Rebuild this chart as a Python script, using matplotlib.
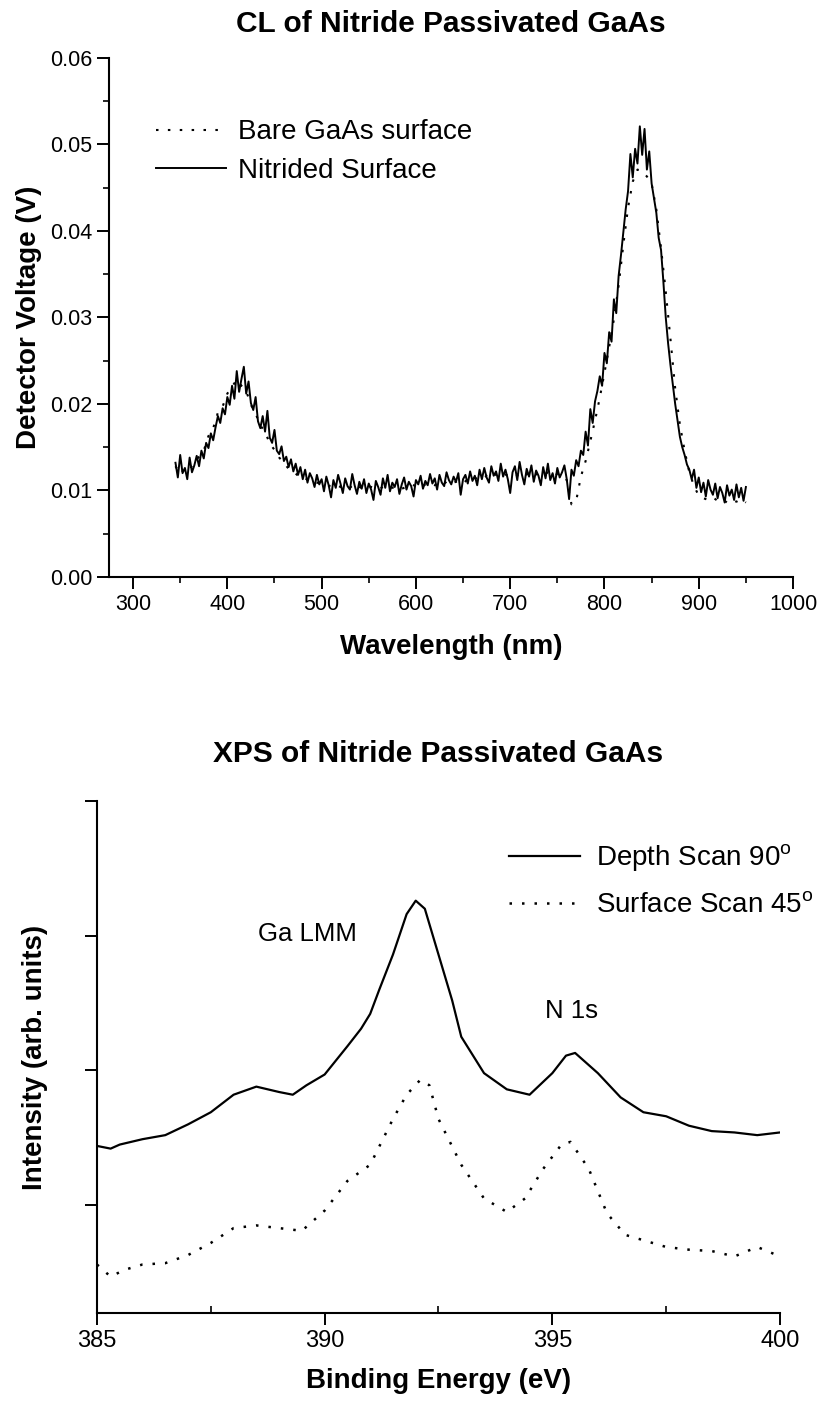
import matplotlib
matplotlib.use("Agg")
import numpy as np
import matplotlib.pyplot as plt
from matplotlib.ticker import MultipleLocator, FixedLocator, NullFormatter

plt.rcParams['font.family'] = ['Liberation Sans', 'DejaVu Sans']
plt.rcParams['mathtext.fontset'] = 'custom'
plt.rcParams['mathtext.rm'] = 'Liberation Sans'

# ---- CL spectra (top panel) ----
# nitrided surface, sampled every 2.5 nm from 345 to 950 nm
wl_nitrided = np.linspace(345, 950, 243)
nitrided = [
    .0132, .0115, .0141, .0120, .0126, .0113, .0138, .0121, .0129, .0140,
    .0128, .0146, .0137, .0155, .0149, .0166, .0158, .0173, .0186, .0178,
    .0195, .0188, .0208, .0199, .0221, .0206, .0238, .0214, .0229, .0243,
    .0212, .0226, .0201, .0193, .0208, .0180, .0172, .0186, .0168, .0192,
    .0161, .0155, .0170, .0146, .0142, .0151, .0134, .0139, .0127, .0136,
    .0122, .0131, .0118, .0127, .0113, .0124, .0109, .0120, .0114, .0104,
    .0118, .0107, .0113, .0099, .0116, .0106, .0092, .0112, .0103, .0118,
    .0108, .0097, .0114, .0105, .0101, .0119, .0106, .0096, .0110, .0102,
    .0113, .0097, .0108, .0101, .0089, .0111, .0104, .0095, .0114, .0103,
    .0118, .0099, .0109, .0104, .0113, .0096, .0107, .0115, .0101, .0110,
    .0105, .0093, .0112, .0107, .0117, .0102, .0111, .0106, .0119, .0108,
    .0114, .0101, .0118, .0109, .0105, .0121, .0112, .0107, .0116, .0110,
    .0120, .0095, .0113, .0118, .0108, .0122, .0111, .0117, .0106, .0124,
    .0113, .0126, .0115, .0109, .0128, .0117, .0122, .0111, .0131, .0116,
    .0124, .0113, .0097, .0121, .0128, .0112, .0133, .0118, .0107, .0125,
    .0116, .0129, .0110, .0123, .0117, .0106, .0127, .0114, .0131, .0112,
    .0120, .0108, .0126, .0115, .0121, .0129, .0113, .0090, .0124, .0117,
    .0135, .0128, .0146, .0141, .0168, .0152, .0194, .0178, .0203, .0215,
    .0232, .0221, .0259, .0247, .0283, .0272, .0321, .0305, .0348, .0372,
    .0398, .0425, .0446, .0489, .0462, .0495, .0478, .0521, .0488, .0518,
    .0471, .0492, .0455, .0438, .0421, .0392, .0378, .0341, .0300, .0270,
    .0245, .0222, .0200, .0181, .0162, .0150, .0141, .0130, .0124, .0113,
    .0124, .0103, .0115, .0098, .0109, .0093, .0112, .0101, .0095, .0108,
    .0091, .0104, .0097, .0086, .0106, .0094, .0101, .0089, .0107, .0092,
    .0103, .0088, .0104]
# bare surface, sampled every 5 nm
wl_bare = list(range(345, 951, 5))
bare = [
    .0128, .0119, .0126, .0124, .0133, .0139, .0146, .0163, .0172, .0190,
    .0197, .0212, .0220, .0228, .0221, .0215, .0199, .0189, .0175, .0168,
    .0154, .0147, .0138, .0132, .0125, .0122, .0117, .0117, .0112, .0111,
    .0109, .0108, .0106, .0105, .0107, .0104, .0106, .0103, .0108, .0104,
    .0102, .0105, .0103, .0101, .0104, .0106, .0103, .0105, .0102, .0104,
    .0107, .0105, .0103, .0107, .0109, .0106, .0110, .0108, .0112, .0109,
    .0111, .0108, .0113, .0111, .0115, .0113, .0117, .0114, .0119, .0116,
    .0118, .0117, .0115, .0119, .0116, .0121, .0117, .0120, .0118, .0121,
    .0116, .0119, .0117, .0112, .0084, .0088, .0116, .0134, .0157, .0181,
    .0207, .0236, .0266, .0298, .0337, .0384, .0427, .0457, .0471, .0469,
    .0463, .0455, .0425, .0380, .0330, .0275, .0218, .0176, .0146, .0121,
    .0105, .0094, .0091, .0089, .0092, .0088, .0090, .0086, .0089, .0087,
    .0090, .0086]

# ---- XPS spectra (bottom panel) ----
depth_energy = [385.0, 385.3, 385.5, 386.0, 386.5, 387.0, 387.5, 388.0, 388.5, 389.0,
                389.3, 389.6, 390.0, 390.5, 390.8, 391.0, 391.2, 391.5, 391.8, 392.0,
                392.2, 392.5, 392.8, 393.0, 393.5, 394.0, 394.5, 395.0, 395.3, 395.5,
                396.0, 396.5, 397.0, 397.5, 398.0, 398.5, 399.0, 399.5, 400.0]
depth_int = [1.24, 1.22, 1.25, 1.29, 1.32, 1.40, 1.49, 1.62, 1.68, 1.64,
             1.62, 1.69, 1.77, 1.98, 2.11, 2.22, 2.40, 2.66, 2.96, 3.06,
             3.00, 2.66, 2.32, 2.05, 1.78, 1.66, 1.62, 1.78, 1.91, 1.93,
             1.78, 1.60, 1.49, 1.46, 1.39, 1.35, 1.34, 1.32, 1.34]
surf_energy = [385.0, 385.3, 385.6, 386.0, 386.5, 387.0, 387.5, 388.0, 388.5, 389.0,
               389.5, 390.0, 390.5, 391.0, 391.5, 391.8, 392.1, 392.3, 392.5, 393.0,
               393.5, 394.0, 394.4, 394.8, 395.2, 395.4, 395.8, 396.2, 396.6, 397.0,
               397.5, 398.0, 398.5, 399.0, 399.5, 400.0]
surf_int = [0.36, 0.27, 0.32, 0.36, 0.37, 0.43, 0.52, 0.63, 0.65, 0.63,
            0.61, 0.76, 0.98, 1.10, 1.44, 1.62, 1.73, 1.69, 1.44, 1.10,
            0.85, 0.75, 0.85, 1.07, 1.25, 1.27, 1.07, 0.74, 0.58, 0.54,
            0.49, 0.47, 0.46, 0.42, 0.49, 0.42]

fig = plt.figure(figsize=(8.19, 14.01), dpi=100)

# top panel
ax1 = fig.add_axes([0.1331, 0.5882, 0.8352, 0.3704])
ax1.plot(wl_bare, bare, color='black', lw=1.5, linestyle=(0, (1.2, 4.5)), label='Bare GaAs surface')
ax1.plot(wl_nitrided, nitrided, color='black', lw=1.4, label='Nitrided Surface')
ax1.set_xlim(274.5, 1000)
ax1.set_ylim(0, 0.06)
ax1.xaxis.set_major_locator(MultipleLocator(100))
ax1.xaxis.set_minor_locator(MultipleLocator(50))
ax1.yaxis.set_major_locator(MultipleLocator(0.01))
ax1.yaxis.set_minor_locator(MultipleLocator(0.005))
ax1.yaxis.set_major_formatter(plt.FuncFormatter(lambda v, p: '%.2f' % v))
ax1.set_title('CL of Nitride Passivated GaAs', fontsize=21.5, fontweight='bold', pad=19)
ax1.set_xlabel('Wavelength (nm)', fontsize=20, fontweight='bold', labelpad=14)
ax1.set_ylabel('Detector Voltage (V)', fontsize=20, fontweight='bold')
ax1.yaxis.set_label_coords(-0.098, 0.5)
ax1.legend(loc='upper left', bbox_to_anchor=(0.068, 0.882), frameon=False, fontsize=20,
           handlelength=2.55, handletextpad=0.43, labelspacing=0.45,
           borderpad=0, borderaxespad=0)

# bottom panel
ax2 = fig.add_axes([0.1184, 0.0628, 0.834, 0.3655])
ax2.plot(depth_energy, depth_int, color='black', lw=1.6, label='Depth Scan 90$^{\\mathrm{o}}$')
ax2.plot(surf_energy, surf_int, color='black', lw=1.8, linestyle=(0, (1, 4)),
         label='Surface Scan 45$^{\\mathrm{o}}$')
ax2.set_xlim(385, 400)
ax2.set_ylim(0, 3.8)
ax2.xaxis.set_major_locator(MultipleLocator(5))
ax2.xaxis.set_minor_locator(FixedLocator([387.5, 392.5, 397.5]))
ax2.yaxis.set_major_locator(FixedLocator([0.8, 1.8, 2.8, 3.8]))
ax2.yaxis.set_major_formatter(NullFormatter())
ax2.text(389.63, 2.81, 'Ga LMM', fontsize=18.5, ha='center', va='center')
ax2.text(395.43, 2.24, 'N 1s', fontsize=18.5, ha='center', va='center')
ax2.set_title('XPS of Nitride Passivated GaAs', fontsize=21.5, fontweight='bold', pad=28)
ax2.set_xlabel('Binding Energy (eV)', fontsize=20, fontweight='bold', labelpad=12)
ax2.set_ylabel('Intensity (arb. units)', fontsize=20, fontweight='bold')
ax2.yaxis.set_label_coords(-0.071, 0.5)
ax2.legend(loc='upper left', bbox_to_anchor=(0.603, 0.92), frameon=False, fontsize=20,
           handlelength=2.55, handletextpad=0.57, labelspacing=0.68,
           borderpad=0, borderaxespad=0)

for ax in (ax1, ax2):
    for side in ('top', 'right'):
        ax.spines[side].set_visible(False)
    for side in ('left', 'bottom'):
        ax.spines[side].set_linewidth(1.5)
    ax.tick_params(which='major', direction='out', length=8.5, width=1.4, labelsize=15.5)
    ax.tick_params(which='minor', direction='out', length=4.5, width=1.2)
ax2.tick_params(axis='x', which='minor', direction='in', length=5)
ax2.tick_params(axis='x', which='major', labelsize=17)

fig.savefig('out.png', dpi=100)
